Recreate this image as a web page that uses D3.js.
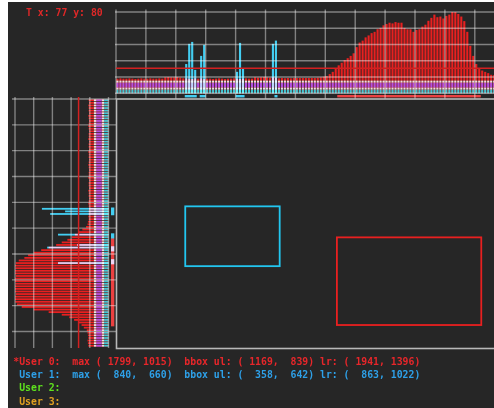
<!DOCTYPE html>
<html>
<head>
<meta charset="utf-8">
<script src="https://cdn.jsdelivr.net/npm/d3@7/dist/d3.min.js"></script>
<style>
  html, body { margin: 0; padding: 0; background: #fff; }
  svg { display: block; }
  text { font-family: "DejaVu Sans Mono", monospace; font-weight: bold; white-space: pre; }
</style>
</head>
<body>
<div id="vis"></div>
<script>
// thresholds shown in the corner
const threshX = 77
const threshY = 80

// column histogram (top), one value per 16px bin of a 2048 wide frame
const topRed = [
  45,46,45,45,46,45,44,45,46,45,45,46,45,45,46,45,
  49,50,49,49,50,48,
  46,46,45,44,46,45,46,44,45,45,44,45,46,45,44,45,45,46,45,44,45,46,45,45,
  49,48,49,50,49,48,49,48,
  46,47,46,47,46,47,47,
  47,47,47,47,47,47,48,49,51,53,59,66,75,86,94,102,108,115,123,142,156,162,172,178,
  185,189,197,201,209,213,217,215,219,217,217,201,197,197,189,195,197,205,211,223,
  232,242,234,236,230,238,242,250,250,244,236,222,189,146,115,90,76,70,66,62,57,56,55
]
const topCyanBins = [23, 24, 25, 26, 28, 29, 40, 41, 42, 52, 53]
const topCyanVals = [90, 152, 158, 72, 115, 149, 66, 155, 75, 152, 162]

// row histogram (left), one value per 16px bin of a 1536 high frame
const leftRed = [
  53,52,54,53,53,52,54,53,52,53,54,53,52,53,53,54,52,53,53,52,54,53,53,52,
  53,54,53,52,53,53,54,52,53,53,52,54,53,53,52,53,54,53,52,53,53,54,53,
  55,56,60,70,80,90,98,110,125,140,160,180,200,215,225,240,248,250,249,250,
  250,248,250,250,249,250,250,250,248,250,250,249,245,232,200,160,125,105,92,80,
  72,66,58,56,55,54,56,55,54
]
const leftCyanRows = [42, 43, 44, 52, 56, 57, 63]
const leftCyanVals = [178, 116, 156, 135, 84, 164, 135]

// low level counts under every bin
const floorVals   = [12, 6, 15, 6]
const floorColors = ['#3ec6d2', '#e4e4e4', '#b050e0', '#e4e4e4']

// bins above threshold, [first, last]
const topCyanRuns  = [[23, 26], [28, 29], [40, 42], [53, 53]]
const topRedRuns   = [[74, 121]]
const leftCyanRuns = [[42, 44], [52, 53], [57, 58], [62, 63]]
const leftRedRuns  = [[54, 87]]

// per user readout
const userNames  = ['User 0:', 'User 1:', 'User 2:', 'User 3:']
const userColors = ['#e8262a', '#2ea0e8', '#5ee01e', '#e0a020']
const userMax = [[1799, 1015], [840, 660], null, null]
const userUl  = [[1169, 839], [358, 642], null, null]
const userLr  = [[1941, 1396], [863, 1022], null, null]
const activeUser = 0

const W = 494, H = 408
const red = '#e82020', cyan = '#22c6f0'

const svg = d3.select('#vis').append('svg')
    .attr('width', W).attr('height', H)

svg.append('rect').attr('x', 8).attr('y', 2)
    .attr('width', W - 8).attr('height', H - 2)
    .attr('fill', '#262626')

// scales
const binX  = d3.scaleLinear().domain([0, 128]).range([116, 116 + 128 * 2.99])
const rowY  = d3.scaleLinear().domain([0, 96]).range([99, 347])
const topV  = d3.scaleLinear().domain([0, 250]).range([93.3, 12])
const leftV = d3.scaleLinear().domain([0, 250]).range([108.5, 15])
const imgX  = d3.scaleLinear().domain([0, 2048]).range([118.3, 118.3 + 2048 * 0.187])
const imgY  = d3.scaleLinear().domain([0, 1536]).range([105.3, 105.3 + 1536 * 0.1574])

const barW = 2.1, barH = 1.8

// stack the floor layers
let acc = 0
const floor = floorVals.map((v, i) => { const f = { y0: acc, y1: acc + v, c: floorColors[i] }; acc += v; return f })

// ---------- top histogram
const gTop = svg.append('g')
gTop.selectAll('.red').data(topRed).join('rect')
    .attr('x', (d, i) => binX(i) + 0.4).attr('width', barW)
    .attr('y', d => topV(d)).attr('height', d => topV(0) - topV(d))
    .attr('fill', red)
topRed.forEach((d, i) => {
    gTop.selectAll(null).data(floor).join('rect')
        .attr('x', binX(i) + 0.4).attr('width', barW)
        .attr('y', f => topV(f.y1)).attr('height', f => topV(f.y0) - topV(f.y1))
        .attr('fill', f => f.c)
})
gTop.selectAll('.cy').data(topCyanBins).join('rect')
    .attr('x', d => binX(d) + 0.4).attr('width', barW)
    .attr('y', (d, i) => topV(topCyanVals[i]))
    .attr('height', (d, i) => topV(0) - topV(topCyanVals[i]))
    .attr('fill', cyan).style('mix-blend-mode', 'screen')

// ---------- left histogram
const gLeft = svg.append('g')
gLeft.selectAll('.red').data(leftRed).join('rect')
    .attr('y', (d, i) => rowY(i) + 0.4).attr('height', barH)
    .attr('x', d => leftV(d)).attr('width', d => leftV(0) - leftV(d))
    .attr('fill', red)
leftRed.forEach((d, i) => {
    gLeft.selectAll(null).data(floor).join('rect')
        .attr('y', rowY(i) + 0.4).attr('height', barH)
        .attr('x', f => leftV(f.y1)).attr('width', f => leftV(f.y0) - leftV(f.y1))
        .attr('fill', f => f.c)
})
gLeft.selectAll('.cy').data(leftCyanRows).join('rect')
    .attr('y', d => rowY(d) + 0.4).attr('height', barH)
    .attr('x', (d, i) => leftV(leftCyanVals[i]))
    .attr('width', (d, i) => leftV(0) - leftV(leftCyanVals[i]))
    .attr('fill', cyan).style('mix-blend-mode', 'screen')

// ---------- grids, drawn over the bars
const gridCol = 'rgba(255,255,255,0.42)'
const grid = svg.append('g').attr('stroke', gridCol).attr('stroke-width', 1.4)
grid.selectAll('.th').data(d3.range(0, 251, 50)).join('line')
    .attr('x1', 115).attr('x2', W).attr('y1', d => topV(d)).attr('y2', d => topV(d))
grid.selectAll('.tv').data(d3.range(0, 128, 10)).join('line')
    .attr('x1', d => binX(d)).attr('x2', d => binX(d)).attr('y1', 9.5).attr('y2', 99)
grid.selectAll('.lv').data(d3.range(0, 251, 50)).join('line')
    .attr('x1', d => leftV(d)).attr('x2', d => leftV(d)).attr('y1', 97).attr('y2', 348)
grid.selectAll('.lh').data(d3.range(0, 96, 10)).join('line')
    .attr('x1', 12).attr('x2', 116).attr('y1', d => rowY(d)).attr('y2', d => rowY(d))

// thresholds
svg.append('line')
    .attr('x1', 116).attr('x2', W).attr('y1', topV(threshX)).attr('y2', topV(threshX))
    .attr('stroke', '#d42020').attr('stroke-width', 1.5)
svg.append('line')
    .attr('x1', leftV(threshY)).attr('x2', leftV(threshY)).attr('y1', 97).attr('y2', 348)
    .attr('stroke', '#d42020').attr('stroke-width', 1.5)

// runs above threshold
const runs = svg.append('g')
const topRuns = topRedRuns.map(r => ({ r, c: red })).concat(topCyanRuns.map(r => ({ r, c: cyan })))
runs.selectAll('.tr').data(topRuns).join('rect')
    .attr('x', d => binX(d.r[0])).attr('width', d => binX(d.r[1] + 1) - binX(d.r[0]))
    .attr('y', 95).attr('height', 2.4)
    .attr('fill', d => d.c).style('mix-blend-mode', 'screen')
const leftRuns = leftRedRuns.map(r => ({ r, c: red })).concat(leftCyanRuns.map(r => ({ r, c: cyan })))
runs.selectAll('.lr').data(leftRuns).join('rect')
    .attr('y', d => rowY(d.r[0])).attr('height', d => rowY(d.r[1] + 1) - rowY(d.r[0]))
    .attr('x', 111).attr('width', 3.3)
    .attr('fill', d => d.c).style('mix-blend-mode', 'screen')

// ---------- main image panel
svg.append('rect')
    .attr('x', 116.5).attr('y', 99).attr('width', 420).attr('height', 249.5)
    .attr('fill', 'none').attr('stroke', '#b8b8b8').attr('stroke-width', 1.6)

const boxes = userUl.map((ul, i) => ({ ul, lr: userLr[i], c: i === 0 ? red : cyan })).filter(d => d.ul)
svg.selectAll('.bbox').data(boxes).join('rect')
    .attr('x', d => imgX(d.ul[0])).attr('y', d => imgY(d.ul[1]))
    .attr('width', d => imgX(d.lr[0]) - imgX(d.ul[0]))
    .attr('height', d => imgY(d.lr[1]) - imgY(d.ul[1]))
    .attr('fill', 'none').attr('stroke', d => d.c).attr('stroke-width', 1.8)

// ---------- text
svg.append('text')
    .attr('x', 26).attr('y', 16.2)
    .attr('fill', '#e02828').style('font-size', '9.8px')
    .text(`T x: ${threshX} y: ${threshY}`)

const pad = n => String(n).padStart(5)
const pt = p => `(${pad(p[0])},${pad(p[1])})`
svg.selectAll('.user').data(userNames).join('text')
    .attr('x', 13.3).attr('y', (d, i) => 364.5 + 13.35 * i)
    .attr('fill', (d, i) => userColors[i]).style('font-size', '9.8px')
    .text((d, i) => {
        let s = (i === activeUser ? '*' : ' ') + d
        if (userMax[i]) s += '  max ' + pt(userMax[i]) + '  bbox ul: ' + pt(userUl[i]) + ' lr: ' + pt(userLr[i])
        return s
    })
</script>
</body>
</html>
